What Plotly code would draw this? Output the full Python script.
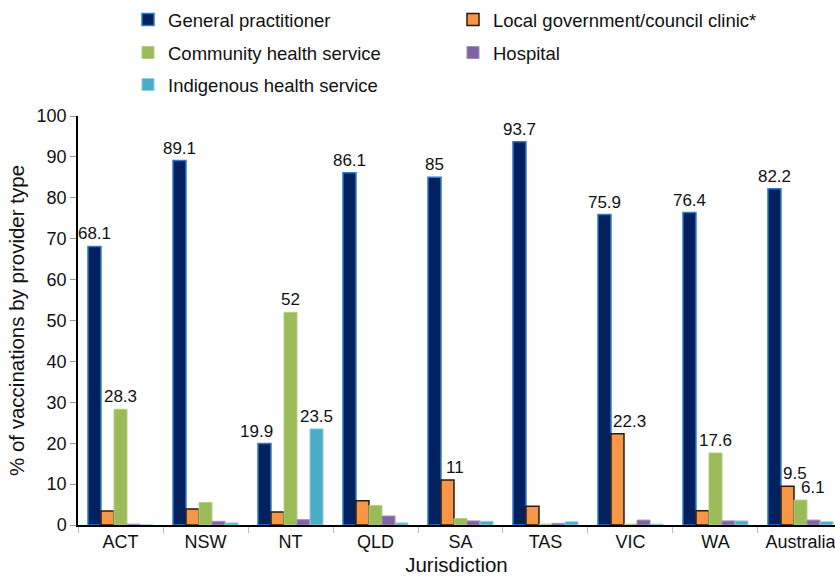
import plotly.graph_objects as go

jurisdictions = ["ACT", "NSW", "NT", "QLD", "SA", "TAS", "VIC", "WA", "Australia"]

general_practitioner = [68.1, 89.1, 19.9, 86.1, 85, 93.7, 75.9, 76.4, 82.2]
local_government = [3.4, 3.9, 3.2, 5.9, 11, 4.6, 22.3, 3.5, 9.5]
community_health = [28.3, 5.5, 52, 4.8, 1.6, 0.2, 0.2, 17.6, 6.1]
hospital = [0.2, 0.9, 1.3, 2.2, 1.0, 0.4, 1.2, 1.0, 1.2]
indigenous_health = [0.0, 0.5, 23.5, 0.5, 0.9, 0.8, 0.2, 1.0, 0.8]

# which bars carry a value label
label_gp = [True] * 9
label_lg = [False, False, False, False, True, False, True, False, True]
label_ch = [True, False, True, False, False, False, False, True, True]
label_ho = [False] * 9
label_ih = [False, False, True, False, False, False, False, False, False]

# horizontal label nudges in px (labels moved aside to avoid neighbouring bars)
nudge_px = {
    ("General practitioner", "NT"): -8,
    ("Local government/council clinic*", "SA"): 8,
    ("Local government/council clinic*", "VIC"): 12,
    ("Local government/council clinic*", "Australia"): 8,
    ("Community health service", "Australia"): 13,
}

series = [
    ("General practitioner", general_practitioner, label_gp, "#00215e", "#2f7acb", 1.5, "legend"),
    ("Local government/council clinic*", local_government, label_lg, "#f79646", "#2b1a0c", 1.5, "legend"),
    ("Community health service", community_health, label_ch, "#9bbb59", "#b5cf86", 1, "legend2"),
    ("Hospital", hospital, label_ho, "#8064a2", "#a08cbd", 1, "legend2"),
    ("Indigenous health service", indigenous_health, label_ih, "#4bacc6", "#8fd0e2", 1, "legend3"),
]

BARGAP = 0.235
CAT_PX = 85.0                      # approx. pixel width of one category
BAR_PX = CAT_PX * (1 - BARGAP) / len(series)
LABEL_FONT = dict(size=17, color="#111111", family="Liberation Sans, Arial, sans-serif")

fig = go.Figure()
annotations = []
for si, (name, vals, labs, col, lcol, lw, leg) in enumerate(series):
    texts = []
    for c, v, show in zip(jurisdictions, vals, labs):
        if not show:
            texts.append("")
        elif (name, c) in nudge_px:
            texts.append("")
            annotations.append(dict(
                x=c, y=v, xref="x", yref="y",
                text=f"{v:g}", showarrow=False,
                yanchor="bottom", xanchor="center",
                xshift=(si - (len(series) - 1) / 2) * BAR_PX + nudge_px[(name, c)],
                yshift=1,
                font=LABEL_FONT,
            ))
        else:
            texts.append(f"{v:g}")
    fig.add_trace(go.Bar(
        name=name,
        x=jurisdictions,
        y=vals,
        text=texts,
        textposition="outside",
        textfont=LABEL_FONT,
        constraintext="none",
        cliponaxis=False,
        marker=dict(color=col, line=dict(color=lcol, width=lw)),
        legend=leg,
    ))

legend_common = dict(
    orientation="h",
    xref="container",
    yref="container",
    xanchor="left",
    yanchor="middle",
    x=(168 - 40) / 835,
    entrywidth=280,
    entrywidthmode="pixels",
    font=dict(size=18.5, color="#111111", family="Liberation Sans, Arial, sans-serif"),
    bgcolor="rgba(0,0,0,0)",
    itemclick=False,
    tracegroupgap=0,
)

fig.update_layout(
    width=835,
    height=576,
    margin=dict(l=78, r=0, t=116, b=51, pad=0),
    paper_bgcolor="white",
    plot_bgcolor="white",
    barmode="group",
    bargap=BARGAP,
    bargroupgap=0,
    font=dict(family="Liberation Sans, Arial, sans-serif", size=18, color="#111111"),
    legend=dict(legend_common, y=1 - 20 / 576),
    legend2=dict(legend_common, y=1 - 53 / 576),
    legend3=dict(legend_common, y=1 - 85 / 576),
    annotations=annotations,
    xaxis=dict(
        range=[-0.5, 8.406],
        showline=True,
        linecolor="black",
        linewidth=1.5,
        tickson="boundaries",
        ticks="outside",
        ticklen=6,
        tickcolor="#bbbbbb",
        tickfont=dict(size=18),
        title=dict(text="Jurisdiction", font=dict(size=20.5), standoff=6),
        showgrid=False,
        zeroline=False,
    ),
    yaxis=dict(
        range=[0, 100],
        dtick=10,
        showline=True,
        linecolor="black",
        linewidth=1.5,
        ticks="outside",
        ticklen=6,
        tickcolor="#999999",
        tickfont=dict(size=18),
        title=dict(text="% of vaccinations by provider type", font=dict(size=20.5), standoff=6),
        showgrid=False,
        zeroline=False,
    ),
)

fig.write_html(
    "out.html",
    config={"displayModeBar": False},
    post_script="document.body.style.margin='0px';document.body.style.overflow='hidden';",
)
